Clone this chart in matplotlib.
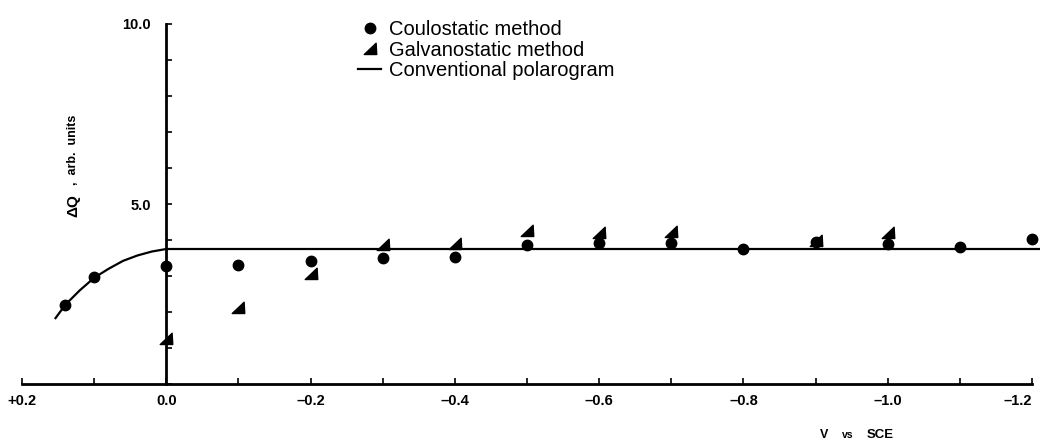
import numpy as np
import matplotlib.pyplot as plt
from matplotlib.path import Path
from matplotlib.ticker import MultipleLocator, FixedLocator

plt.rcParams['font.family'] = ['Liberation Sans', 'DejaVu Sans']

# potentials (V vs SCE) and charge values
coulo_v = [0.14, 0.10, 0.0, -0.1, -0.2, -0.3, -0.4, -0.5, -0.6, -0.7, -0.8, -0.9, -1.0, -1.1, -1.2]
coulo_q = [2.2, 2.97, 3.28, 3.3, 3.42, 3.5, 3.53, 3.86, 3.92, 3.92, 3.75, 3.95, 3.9, 3.8, 4.03]

galv_v = [0.0, -0.1, -0.2, -0.3, -0.4, -0.5, -0.6, -0.7, -0.9, -1.0]
galv_q = [1.25, 2.1, 3.05, 3.86, 3.9, 4.25, 4.19, 4.22, 3.97, 4.2]

polar_v = [0.1535, 0.14, 0.12, 0.10, 0.08, 0.06, 0.04, 0.02, 0.0, -1.215]
polar_q = [1.83, 2.2, 2.6, 2.95, 3.2, 3.42, 3.57, 3.68, 3.75, 3.75]

xtick_vals = [0.2, 0.0, -0.2, -0.4, -0.6, -0.8, -1.0, -1.2]
xtick_text = ['+0.2', '0.0', '\u20130.2', '\u20130.4', '\u20130.6', '\u20130.8', '\u20131.0', '\u20131.2']

# right-angled triangle marker (vertical edge on the right)
tri = Path([(-1, -0.8), (1, -0.8), (0.9, 1), (-1, -0.8)],
           [Path.MOVETO, Path.LINETO, Path.LINETO, Path.CLOSEPOLY])

W, H = 1040, 440
fig = plt.figure(figsize=(10.4, 4.4), dpi=100)
ax = fig.add_axes([22 / W, (H - 384) / H, 1010 / W, 360 / H])

ax.plot(polar_v, polar_q, color='black', lw=1.6, clip_on=False,
        label='Conventional polarogram', zorder=2, solid_joinstyle='round')
ax.plot(coulo_v, coulo_q, 'o', color='black', ms=7.5, clip_on=False,
        label='Coulostatic method', zorder=3)
ax.plot(galv_v, galv_q, ls='none', marker=tri, color='black', ms=9,
        clip_on=False, label='Galvanostatic method', zorder=3)

ax.set_xlim(0.2, -1.2)
ax.set_ylim(0, 10)

ax.spines['top'].set_visible(False)
ax.spines['right'].set_visible(False)
ax.spines['left'].set_position(('data', 0))
ax.spines['left'].set_linewidth(2)
ax.spines['bottom'].set_linewidth(2)

ax.xaxis.set_major_locator(FixedLocator(xtick_vals))
ax.set_xticklabels(xtick_text)
ax.xaxis.set_minor_locator(MultipleLocator(0.1))
ax.yaxis.set_major_locator(FixedLocator([5, 10]))
ax.set_yticklabels(['5.0', '10.0'])
ax.yaxis.set_minor_locator(MultipleLocator(1))

ax.tick_params(axis='x', which='both', direction='in', length=4, width=1.2,
               pad=7, labelsize=10.5)
ax.tick_params(axis='y', which='both', direction='in', length=4, width=1.2,
               pad=11, labelsize=10.5)
for lab in ax.get_xticklabels() + ax.get_yticklabels():
    lab.set_fontweight('bold')
xl = ax.get_xticklabels()
xl[-1].set_horizontalalignment('right')
xl[-1].set_x(-1.2)

# axis titles
fig.text(73 / W, 1 - 206 / H, '\u0394Q', rotation=90, ha='center', va='center',
         fontsize=11, fontweight='bold')
fig.text(73 / W, 1 - 150 / H, ',  arb.  units', rotation=90, ha='center',
         va='center', fontsize=9, fontweight='bold')
fig.text(820 / W, 1 - 435 / H, 'V', ha='left', va='center', fontsize=9,
         fontweight='bold')
fig.text(842 / W, 1 - 435 / H, 'vs', ha='left', va='center', fontsize=7.5,
         fontweight='bold')
fig.text(867 / W, 1 - 435 / H, 'SCE', ha='left', va='center', fontsize=9.5,
         fontweight='bold')

h, l = ax.get_legend_handles_labels()
order = [1, 2, 0]
ax.legend([h[i] for i in order], [l[i] for i in order], frameon=False,
          loc='upper left', bbox_to_anchor=(358 / W, 1 - 20 / H),
          bbox_transform=fig.transFigure, fontsize=14.5, handlelength=1.15,
          handletextpad=0.4, labelspacing=0.08, borderpad=0, borderaxespad=0)

fig.savefig('out.png', dpi=100)
